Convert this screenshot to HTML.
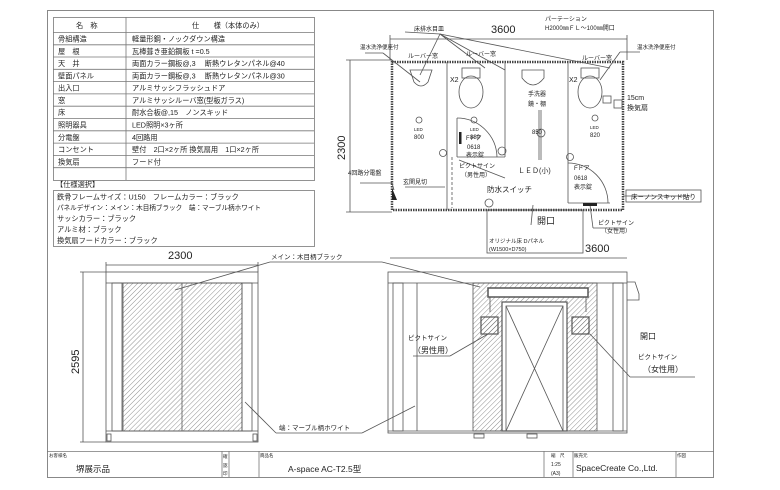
<!DOCTYPE html>
<html><head><meta charset="utf-8"><style>
html,body{margin:0;padding:0;background:#fff}
svg{display:block}
text{font-family:"Liberation Sans","Noto Sans CJK JP",sans-serif;fill:#222}
</style></head><body>
<svg width="780" height="490" viewBox="0 0 780 490" xmlns="http://www.w3.org/2000/svg">
<defs>
<pattern id="h" width="3.5" height="3.5" patternUnits="userSpaceOnUse" patternTransform="rotate(45)">
<line x1="0" y1="0" x2="0" y2="3.5" stroke="#444" stroke-width="0.6"/></pattern>
</defs>
<rect x="0" y="0" width="780" height="490" fill="#fff"/>
<rect x="47.5" y="10.5" width="666" height="467" fill="none" stroke="#888" stroke-width="1"/>

<g stroke="#777" stroke-width="0.8" fill="none">
<rect x="53.5" y="17.5" width="261" height="163"/>
<line x1="126" y1="17" x2="126" y2="180"/>
<line x1="53" y1="32.5" x2="314" y2="32.5"/>
<line x1="53" y1="44.8" x2="314" y2="44.8"/>
<line x1="53" y1="57" x2="314" y2="57"/>
<line x1="53" y1="69.3" x2="314" y2="69.3"/>
<line x1="53" y1="81.6" x2="314" y2="81.6"/>
<line x1="53" y1="93.9" x2="314" y2="93.9"/>
<line x1="53" y1="106.2" x2="314" y2="106.2"/>
<line x1="53" y1="118.5" x2="314" y2="118.5"/>
<line x1="53" y1="130.8" x2="314" y2="130.8"/>
<line x1="53" y1="143.1" x2="314" y2="143.1"/>
<line x1="53" y1="155.4" x2="314" y2="155.4"/>
<line x1="53" y1="167.7" x2="314" y2="167.7"/>
<rect x="53.5" y="190.5" width="261" height="56"/>
</g>
<g font-size="7.2">
<text x="76" y="28">名　称</text><text x="192" y="28">仕　　様（本体のみ）</text>
<text x="58" y="41.5">骨組構造</text><text x="132" y="41.5">軽量形鋼・ノックダウン構造</text>
<text x="58" y="53.8">屋　根</text><text x="132" y="53.8">瓦棒葺き亜鉛鋼板 t =0.5</text>
<text x="58" y="66">天　井</text><text x="132" y="66">両面カラー鋼板@,3　 断熱ウレタンパネル@40</text>
<text x="58" y="78.3">壁面パネル</text><text x="132" y="78.3">両面カラー鋼板@,3　 断熱ウレタンパネル@30</text>
<text x="58" y="90.6">出入口</text><text x="132" y="90.6">アルミサッシフラッシュドア</text>
<text x="58" y="102.9">窓</text><text x="132" y="102.9">アルミサッシルーバ窓(型板ガラス)</text>
<text x="58" y="115.2">床</text><text x="132" y="115.2">耐水合板@,15　ノンスキッド</text>
<text x="58" y="127.5">照明器具</text><text x="132" y="127.5">LED照明×3ヶ所</text>
<text x="58" y="139.8">分電盤</text><text x="132" y="139.8">4回路用</text>
<text x="58" y="152.1">コンセント</text><text x="132" y="152.1">壁付　2口×2ヶ所  換気扇用　1口×2ヶ所</text>
<text x="58" y="164.4">換気扇</text><text x="132" y="164.4">フード付</text>
<text x="56" y="187">【仕様選択】</text>
<text x="57" y="199.5">鉄骨フレームサイズ：U150　フレームカラー：ブラック</text>
<text x="57" y="210" font-size="6.6">パネルデザイン：メイン：木目柄ブラック　端：マーブル柄ホワイト</text>
<text x="57" y="221">サッシカラー：ブラック</text>
<text x="57" y="232">アルミ材：ブラック</text>
<text x="57" y="243">換気扇フードカラー：ブラック</text>
</g>

<g stroke="#555" stroke-width="0.8" fill="none">
<line x1="390" y1="39" x2="627" y2="39"/>
<line x1="390" y1="35" x2="390" y2="60"/><line x1="627" y1="35" x2="627" y2="60"/>
<line x1="350" y1="60" x2="350" y2="212"/>
<line x1="346" y1="60" x2="392" y2="60"/><line x1="346" y1="212" x2="392" y2="212"/>
<rect x="392" y="62" width="231" height="148" stroke="#444" stroke-width="2.5" stroke-dasharray="1.5 1"/>
<line x1="447" y1="62" x2="447" y2="210"/>
<line x1="505" y1="62" x2="505" y2="157"/>
<line x1="457" y1="157" x2="505" y2="157"/>
<line x1="457" y1="118" x2="457" y2="157"/>
<line x1="568" y1="62" x2="568" y2="203"/>
<line x1="568" y1="203" x2="610" y2="203"/>
<path d="M457 118 A40 40 0 0 1 497 157"/>
<path d="M568 163 A40 40 0 0 1 608 203"/>
<line x1="459" y1="160" x2="505" y2="178"/>
<rect x="487" y="210" width="96" height="43"/>
<line x1="390" y1="258" x2="627" y2="258"/>
<line x1="452" y1="157" x2="452" y2="208" stroke-dasharray="3 2"/>
<line x1="541" y1="110" x2="541" y2="160"/>
<line x1="539" y1="110" x2="539" y2="160"/>
<path d="M410 70 h22 l-4 12 q-7 8 -14 0 z"/>
<ellipse cx="471" cy="92" rx="12" ry="16"/><rect x="462" y="68" width="18" height="10"/>
<path d="M522 70 h22 v8 q-11 14 -22 0 z"/>
<ellipse cx="590" cy="92" rx="12" ry="16"/><rect x="581" y="68" width="18" height="10"/>
<circle cx="419" cy="120" r="3"/><circle cx="474" cy="120" r="3"/><circle cx="595" cy="118" r="3"/>
<circle cx="541" cy="133" r="4"/>
<circle cx="502" cy="151" r="4"/><circle cx="489" cy="203" r="4"/>
<circle cx="443" cy="153" r="3.5"/><circle cx="570" cy="157" r="3.5"/>
<rect x="603" y="96" width="8" height="7"/><rect x="614" y="100" width="8" height="8"/>
<line x1="405" y1="32" x2="440" y2="34"/><line x1="440" y1="34" x2="420" y2="75"/>
<line x1="440" y1="34" x2="485" y2="68"/><line x1="440" y1="34" x2="505" y2="70"/>
<line x1="440" y1="34" x2="610" y2="68"/>
<line x1="365" y1="53" x2="383" y2="53"/><line x1="383" y1="53" x2="420" y2="82"/>
<line x1="640" y1="52" x2="620" y2="52"/><line x1="620" y1="52" x2="600" y2="80"/>
<line x1="360" y1="183" x2="392" y2="183"/><line x1="392" y1="183" x2="394" y2="190"/>
<line x1="405" y1="187" x2="445" y2="187"/>
<line x1="623" y1="196" x2="690" y2="196"/><rect x="626" y="190" width="75" height="12"/>
<line x1="590" y1="205" x2="593" y2="228"/><line x1="593" y1="228" x2="625" y2="228"/>
<line x1="533" y1="205" x2="531" y2="225"/>
</g>
<path d="M392 188 l5 12 h-5 z" fill="#222"/>
<rect x="459" y="132" width="2.5" height="12" fill="#222"/>
<rect x="583" y="203" width="14" height="3" fill="#222"/>
<g font-size="6">
<text x="414" y="31">床排水目皿</text>
<text x="545" y="21">パーテーション</text><text x="545" y="30">H2000㎜ＦＬ～100㎜開口</text>
<text x="360" y="49" font-size="5.5">温水洗浄便座付</text>
<text x="637" y="49" font-size="5.5">温水洗浄便座付</text>
<text x="408" y="58">ルーバー窓</text><text x="466" y="56">ルーバー窓</text><text x="582" y="60">ルーバー窓</text>
<text x="450" y="82" font-size="7">X2</text><text x="569" y="82" font-size="7">X2</text>
<text x="528" y="96">手洗器</text><text x="528" y="106">鏡・棚</text>
<text x="414" y="131" font-size="4.5">LED</text><text x="414" y="139">800</text>
<text x="470" y="131" font-size="4.5">LED</text><text x="470" y="139">880</text>
<text x="532" y="134">850</text>
<text x="590" y="129" font-size="4.5">LED</text><text x="590" y="137">820</text>
<text x="466" y="140">Fドア</text><text x="467" y="149">0618</text><text x="466" y="157">表示錠</text>
<text x="574" y="170">Fドア</text><text x="574" y="180">0618</text><text x="574" y="189">表示錠</text>
<text x="459" y="168">ピクトサイン</text><text x="461" y="177">（男性用）</text>
<text x="518" y="173" font-size="7">ＬＥＤ(小)</text>
<text x="487" y="192" font-size="7.5">防水スイッチ</text>
<text x="403" y="184">玄関見切</text>
<text x="348" y="175">4回路分電盤</text>
<text x="627" y="100" font-size="7">15cm</text><text x="627" y="110" font-size="7">換気扇</text>
<text x="631" y="199" font-size="6.5">床－ノンスキッド貼り</text>
<text x="598" y="225">ピクトサイン</text><text x="601" y="233">（女性用）</text>
<text x="489" y="243" font-size="5.5">オリジナル床 Dパネル</text>
<text x="489" y="251" font-size="5.5">(W1500×D750)</text>
</g>
<text x="537" y="224" font-size="9">開口</text>
<text x="491" y="33" font-size="11">3600</text>
<text x="585" y="252" font-size="11">3600</text>
<text x="0" y="0" font-size="11" transform="translate(345,160) rotate(-90)">2300</text>

<g stroke="#555" stroke-width="0.8" fill="none">
<line x1="106" y1="265" x2="258" y2="265"/>
<line x1="106" y1="262" x2="106" y2="272"/><line x1="258" y1="262" x2="258" y2="272"/>
<line x1="83" y1="272" x2="83" y2="442"/>
<line x1="80" y1="272" x2="106" y2="272"/><line x1="80" y1="442" x2="106" y2="442"/>
<rect x="106" y="272" width="152" height="170"/>
<line x1="106" y1="283" x2="258" y2="283"/>
<line x1="106" y1="431" x2="258" y2="431"/>
<rect x="112" y="283" width="10" height="148"/><rect x="242" y="283" width="10" height="148"/>
<rect x="123" y="283" width="119" height="148" fill="url(#h)"/>
<line x1="182" y1="283" x2="182" y2="431"/>
<rect x="107" y="434" width="4" height="7"/><rect x="253" y="434" width="4" height="7"/>
<line x1="175" y1="290" x2="270" y2="262"/><line x1="270" y1="262" x2="382" y2="262"/><line x1="382" y1="262" x2="480" y2="287"/>
<line x1="245" y1="402" x2="276" y2="433"/><line x1="276" y1="433" x2="362" y2="433"/><line x1="362" y1="433" x2="415" y2="406"/>
</g>
<text x="168" y="259" font-size="11">2300</text>
<text x="0" y="0" font-size="11" transform="translate(79,374) rotate(-90)">2595</text>
<text x="271" y="259" font-size="6.5">メイン：木目柄ブラック</text>
<text x="279" y="430" font-size="6.5">端：マーブル柄ホワイト</text>

<g stroke="#555" stroke-width="0.8" fill="none">
<rect x="388" y="272" width="239" height="161"/>
<line x1="388" y1="283" x2="627" y2="283"/>
<line x1="388" y1="431" x2="627" y2="431"/>
<rect x="393" y="283" width="10" height="148"/><rect x="613" y="283" width="10" height="148"/>
<line x1="417" y1="283" x2="417" y2="431"/>
<rect x="473" y="283" width="124" height="148" fill="url(#h)"/>
<rect x="502" y="302" width="65" height="129" fill="#fff" stroke-width="1.2"/>
<rect x="506" y="306" width="57" height="125"/>
<line x1="506" y1="306" x2="563" y2="431"/><line x1="563" y1="306" x2="506" y2="431"/>
<rect x="488" y="288" width="100" height="9" fill="#fff" stroke-width="1.5"/>
<line x1="490" y1="297" x2="490" y2="312"/><line x1="586" y1="297" x2="586" y2="312"/>
<rect x="481" y="317" width="17" height="17" fill="url(#h)" stroke-width="1.2"/>
<rect x="572" y="317" width="17" height="17" fill="url(#h)" stroke-width="1.2"/>
<line x1="488" y1="334" x2="450" y2="356"/><line x1="450" y1="356" x2="413" y2="356"/>
<line x1="590" y1="334" x2="630" y2="377"/><line x1="630" y1="377" x2="695" y2="377"/>
<path d="M627 282 h8 l4 12 v6 h-12"/>
<rect x="474" y="434" width="10" height="4"/><rect x="527" y="434" width="10" height="4"/>
</g>
<text x="408" y="340" font-size="6.5">ピクトサイン</text>
<text x="413" y="353" font-size="8">（男性用）</text>
<text x="640" y="339" font-size="8">開口</text>
<text x="638" y="359" font-size="6.5">ピクトサイン</text>
<text x="643" y="372" font-size="8">（女性用）</text>

<g stroke="#777" stroke-width="0.8" fill="none">
<line x1="47" y1="451.5" x2="714" y2="451.5"/>
<line x1="222" y1="451" x2="222" y2="477"/><line x1="229" y1="451" x2="229" y2="477"/>
<line x1="259" y1="451" x2="259" y2="477"/>
<line x1="544" y1="451" x2="544" y2="477"/><line x1="573" y1="451" x2="573" y2="477"/>
<line x1="676" y1="451" x2="676" y2="477"/>
</g>
<g font-size="4.5"><text x="49" y="457">お客様名</text><text x="260" y="457">商品名</text><text x="574" y="457">販売元</text><text x="677" y="457">作図</text>
<text x="223" y="458">確</text><text x="223" y="467">認</text><text x="223" y="475">印</text>
<text x="551" y="457">縮　尺</text></g>
<text x="76" y="472" font-size="8.5">堺展示品</text>
<text x="288" y="472" font-size="8.5">A-space AC-T2.5型</text>
<text x="551" y="466" font-size="5">1:25</text><text x="551" y="475" font-size="5">(A3)</text>
<text x="576" y="471" font-size="8.5">SpaceCreate Co.,Ltd.</text>
</svg>
</body></html>
